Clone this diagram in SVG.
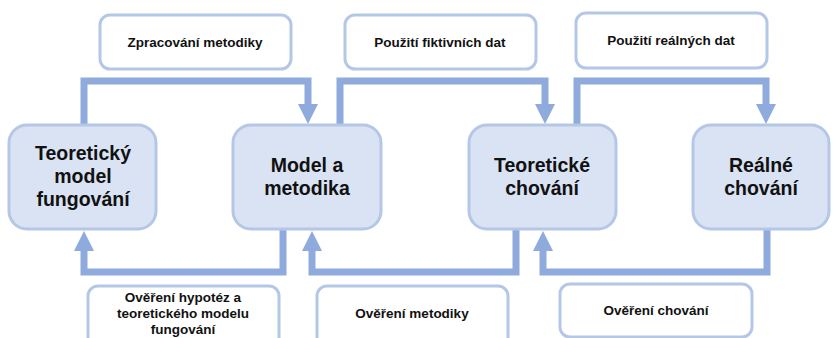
<svg xmlns="http://www.w3.org/2000/svg" width="833" height="338" viewBox="0 0 833 338">
<style>
.node{fill:#DAE3F3;stroke:#B4C7E7;stroke-width:3}
.lbl{fill:#FFFFFF;stroke:#B4C7E7;stroke-width:3}
.nt{font-family:"Liberation Sans",Arial,sans-serif;font-weight:bold;font-size:19.5px;fill:#111111;text-anchor:middle}
.lt{font-family:"Liberation Sans",Arial,sans-serif;font-weight:bold;font-size:13.5px;fill:#111111;text-anchor:middle}
.conn{fill:none;stroke:#8FAADC;stroke-width:7;stroke-linejoin:miter}
.ah{fill:#8FAADC}
</style>
<rect width="833" height="338" fill="#FFFFFF"/>
<g id="connectors">
<path class="conn" d="M84,125 V81 H308 V106"/>
<polygon class="ah" points="298,104 318,104 308,124"/>
<path class="conn" d="M340,125 V81 H545 V106"/>
<polygon class="ah" points="535,104 555,104 545,124"/>
<path class="conn" d="M577,125 V81 H766 V106"/>
<polygon class="ah" points="756,104 776,104 766,124"/>
<path class="conn" d="M283,229 V272 H84 V249"/>
<polygon class="ah" points="74,251 94,251 84,231"/>
<path class="conn" d="M516,229 V272 H312 V249"/>
<polygon class="ah" points="302,251 322,251 312,231"/>
<path class="conn" d="M767,229 V272 H543 V249"/>
<polygon class="ah" points="533,251 553,251 543,231"/>
</g>
<g id="n1"><rect class="node" x="9" y="125" width="147" height="104" rx="18"/>
<text class="nt" x="83" y="160">Teoretický</text><text class="nt" x="83" y="183">model</text><text class="nt" x="83" y="206">fungování</text></g>
<g id="n2"><rect class="node" x="233" y="125" width="148" height="104" rx="18"/>
<text class="nt" x="307" y="172">Model a</text><text class="nt" x="307" y="195">metodika</text></g>
<g id="n3"><rect class="node" x="469" y="125" width="147" height="104" rx="18"/>
<text class="nt" x="542" y="172">Teoretické</text><text class="nt" x="542" y="195">chování</text></g>
<g id="n4"><rect class="node" x="693" y="125" width="136" height="104" rx="18"/>
<text class="nt" x="761" y="172">Reálné</text><text class="nt" x="761" y="195">chování</text></g>
<g id="l1"><rect class="lbl" x="100" y="15" width="191" height="54" rx="10"/>
<text class="lt" x="195" y="47">Zpracování metodiky</text></g>
<g id="l2"><rect class="lbl" x="345" y="15" width="191" height="54" rx="10"/>
<text class="lt" x="440" y="47">Použití fiktivních dat</text></g>
<g id="l3"><rect class="lbl" x="576" y="13" width="191" height="55" rx="10"/>
<text class="lt" x="671" y="45">Použití reálných dat</text></g>
<g id="l4"><rect class="lbl" x="88" y="286" width="191" height="62" rx="10"/>
<text class="lt" x="183" y="302">Ověření hypotéz a</text><text class="lt" x="183" y="318">teoretického modelu</text><text class="lt" x="183" y="334">fungování</text></g>
<g id="l5"><rect class="lbl" x="317" y="286" width="191" height="62" rx="10"/>
<text class="lt" x="412" y="318">Ověření metodiky</text></g>
<g id="l6"><rect class="lbl" x="560" y="284" width="192" height="53" rx="10"/>
<text class="lt" x="656" y="315">Ověření chování</text></g>
</svg>
